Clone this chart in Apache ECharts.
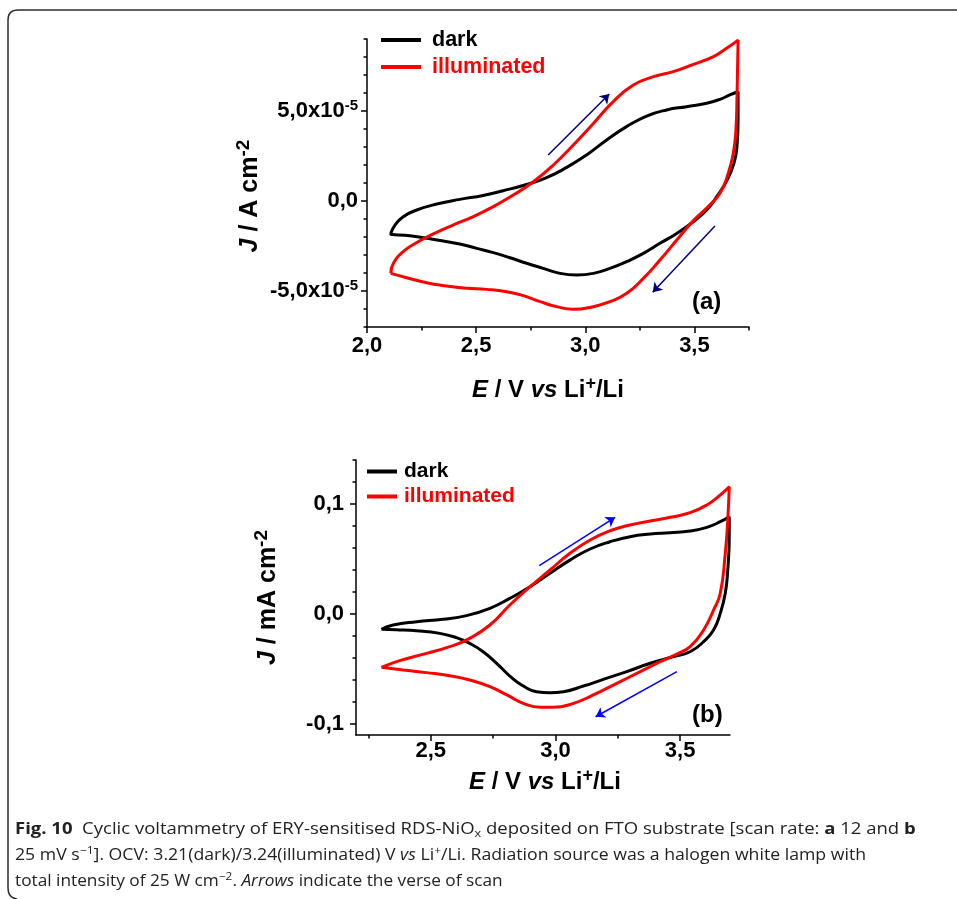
<!DOCTYPE html>
<html><head><meta charset="utf-8">
<script src="https://cdn.jsdelivr.net/npm/echarts@6/dist/echarts.min.js"></script>
<style>html,body{margin:0;padding:0;background:#fff}#c{width:957px;height:899px}</style>
</head><body><div id="c"></div>
<script>
// ---------- DATA ----------
// Panel (a): E / V vs Li+/Li, J in units of 1e-5 A cm^-2 (scan order)
const darkA = [[2.109,-1.79],[2.129,-1.33],[2.166,-0.87],[2.228,-0.50],[2.320,-0.17],[2.425,0.09],[2.532,0.31],[2.624,0.57],[2.731,0.92],[2.823,1.30],[2.915,1.87],[3.006,2.56],[3.098,3.39],[3.189,4.13],[3.281,4.72],[3.373,5.06],[3.464,5.24],[3.556,5.43],[3.617,5.65],[3.662,5.89],[3.700,6.07],
  [3.700,4.50],[3.695,3.02],[3.681,2.09],[3.650,1.17],[3.602,0.24],[3.556,-0.50],[3.495,-1.15],[3.419,-1.80],[3.342,-2.35],[3.266,-2.91],[3.189,-3.37],[3.113,-3.74],[3.037,-4.02],[2.961,-4.11],[2.885,-4.02],[2.807,-3.74],[2.731,-3.46],[2.655,-3.15],[2.579,-2.87],[2.503,-2.63],[2.425,-2.39],[2.349,-2.22],[2.273,-2.07],[2.197,-1.93],[2.109,-1.83],[2.109,-1.79]];
const illumA = [[2.109,-4.02],[2.121,-3.46],[2.166,-2.81],[2.228,-2.31],[2.304,-1.83],[2.396,-1.33],[2.487,-0.87],[2.579,-0.31],[2.670,0.33],[2.762,1.07],[2.854,2.00],[2.945,3.11],[3.037,4.31],[3.128,5.52],[3.220,6.44],[3.312,6.91],[3.403,7.19],[3.495,7.59],[3.587,8.02],[3.647,8.48],[3.700,8.94],
  [3.698,7.65],[3.695,5.80],[3.690,3.94],[3.678,2.65],[3.655,1.54],[3.617,0.43],[3.563,-0.31],[3.495,-1.09],[3.419,-2.17],[3.342,-3.28],[3.266,-4.30],[3.190,-5.13],[3.113,-5.59],[3.037,-5.87],[2.945,-6.02],[2.869,-5.87],[2.793,-5.59],[2.716,-5.26],[2.640,-5.04],[2.548,-4.91],[2.457,-4.85],[2.365,-4.72],[2.273,-4.54],[2.182,-4.26],[2.109,-4.02]];
// Panel (b): J in mA cm^-2
const darkB = [[2.302,-0.0139],[2.349,-0.0100],[2.443,-0.0070],[2.549,-0.0048],[2.643,-0.0015],[2.737,0.0052],[2.817,0.0142],[2.898,0.0248],[2.978,0.0370],[3.058,0.0490],[3.139,0.0591],[3.219,0.0657],[3.299,0.0703],[3.380,0.0727],[3.460,0.0739],[3.540,0.0755],[3.607,0.0788],[3.661,0.0839],[3.697,0.0885],
  [3.697,0.0703],[3.691,0.0400],[3.681,0.0188],[3.661,0.0006],[3.634,-0.0145],[3.594,-0.0252],[3.540,-0.0343],[3.473,-0.0388],[3.380,-0.0448],[3.286,-0.0524],[3.192,-0.0594],[3.112,-0.0655],[3.032,-0.0706],[2.978,-0.0715],[2.924,-0.0706],[2.871,-0.0655],[2.817,-0.0564],[2.764,-0.0448],[2.710,-0.0343],[2.656,-0.0267],[2.603,-0.0215],[2.536,-0.0176],[2.443,-0.0152],[2.362,-0.0143],[2.302,-0.0139]];
const illumB = [[2.302,-0.0485],[2.375,-0.0424],[2.483,-0.0358],[2.576,-0.0297],[2.656,-0.0221],[2.737,-0.0100],[2.817,0.0082],[2.898,0.0248],[2.978,0.0400],[3.058,0.0552],[3.139,0.0673],[3.219,0.0757],[3.299,0.0809],[3.380,0.0845],[3.460,0.0879],[3.540,0.0921],[3.607,0.0991],[3.661,0.1082],[3.697,0.1157],
  [3.691,0.0855],[3.681,0.0552],[3.661,0.0188],[3.634,0.0036],[3.594,-0.0145],[3.540,-0.0297],[3.487,-0.0364],[3.420,-0.0433],[3.340,-0.0524],[3.246,-0.0630],[3.152,-0.0736],[3.072,-0.0812],[2.992,-0.0848],[2.938,-0.0848],[2.871,-0.0812],[2.805,-0.0736],[2.737,-0.0661],[2.656,-0.0600],[2.576,-0.0561],[2.483,-0.0533],[2.389,-0.0509],[2.302,-0.0485]];
// scan-direction arrows [start, tip]
const arrowsA = [[[2.83,2.56],[3.11,5.94]], [[3.594,-1.39],[3.309,-5.07]]];
const arrowsB = [[[2.935,0.0439],[3.239,0.0879]], [[3.487,-0.0524],[3.161,-0.0934]]];
// ticks
const xTicksA = [2.0,2.5,3.0,3.5];
const xMinorA = [2.25,2.75,3.25,3.75];
const yTicksA = [-5,0,5];
const yMinorA = [-7,-6,-4,-3,-2,-1,1,2,3,4,6,7,8,9];
const xTicksB = [2.5,3.0,3.5];
const xMinorB = [2.25,2.75,3.25];
const yTicksB = [-0.1,0,0.1];
const yMinorB = [-0.08,-0.06,-0.04,-0.02,0.02,0.04,0.06,0.08,0.12,0.14];
const seriesNames = ['dark','illuminated'];
const captionLines = [
  '{b|Fig. 10}  Cyclic voltammetry of ERY-sensitised RDS-NiO{sub|x} deposited on FTO substrate [scan rate: {b|a} 12 and {b|b}',
  '25 mV s{sup|\u22121}]. OCV: 3.21(dark)/3.24(illuminated) V {i|vs} Li{sup|+}/Li. Radiation source was a halogen white lamp with',
  'total intensity of 25 W cm{sup|\u22122}. {i|Arrows} indicate the verse of scan'
];

// ---------- STYLE ----------
const FONT = "'Liberation Sans', Arial, sans-serif";
const CFONT = "'Open Sans', 'Noto Sans', sans-serif";
const comma = v => v.toFixed(1).replace('.', ',');
function titleRich(size){
  const ss = Math.round(size*0.75);
  return {
    i:{fontStyle:'italic',fontWeight:'bold',fontSize:size,fontFamily:FONT,lineHeight:size+7,color:'#000'},
    n:{fontWeight:'bold',fontSize:size,fontFamily:FONT,lineHeight:size+7,color:'#000'},
    s:{fontWeight:'bold',fontSize:ss,fontFamily:FONT,verticalAlign:'top',lineHeight:ss,color:'#000'}
  };
}
const labelRich = {
  n:{fontWeight:'bold',fontSize:22,fontFamily:FONT,lineHeight:26,color:'#000'},
  s:{fontWeight:'bold',fontSize:15,fontFamily:FONT,lineHeight:15,verticalAlign:'top',color:'#000'}
};
const lineCol = {color:'#000', width:1.5};
function mainAxis(grid, min, max, ticks, fmt, margin, extra){
  return Object.assign({
    gridIndex:grid, type:'value', min:min, max:max,
    axisLine:{show:true,onZero:false,lineStyle:lineCol},
    axisTick:{show:true,length:6,lineStyle:lineCol,customValues:ticks},
    axisLabel:{customValues:ticks,formatter:fmt,margin:margin,rich:labelRich,
      fontWeight:'bold',fontSize:22,fontFamily:FONT,color:'#000'},
    splitLine:{show:false}
  }, extra);
}
function minorAxis(grid, min, max, ticks, extra){
  return Object.assign({
    gridIndex:grid, type:'value', min:min, max:max,
    axisLine:{show:false,onZero:false},
    axisTick:{show:true,length:3.5,lineStyle:lineCol,customValues:ticks},
    axisLabel:{show:false}, splitLine:{show:false}
  }, extra);
}
function arrowMark(arr, color){
  return {
    silent:true, symbol:['none','arrow'], symbolSize:9, animation:false,
    label:{show:false}, lineStyle:{color:color,width:1.5,type:'solid'},
    emphasis:{disabled:true},
    data: arr.map(a => [{coord:a[0]},{coord:a[1]}])
  };
}
function lineSeries(name, data, color, xi, yi, mark){
  const s = {type:'line', name:name, data:data, xAxisIndex:xi, yAxisIndex:yi,
    showSymbol:false, symbol:'none', smooth:0.5, color:color,
    lineStyle:{color:color,width:3}, itemStyle:{color:color}, animation:false, silent:true};
  if (mark) s.markLine = mark;
  return s;
}

// caption scaling to match original line widths
const captionTargets = [900, 862, 498];
const mctx = document.createElement('canvas').getContext('2d');
function plain(s){ return s.replace(/\{[a-z]+\|([^}]*)\}/g, '$1'); }
const captionRich = {
  b:{fontWeight:'bold',fontSize:16,fontFamily:CFONT,lineHeight:20,fill:'#222'},
  i:{fontStyle:'italic',fontSize:16,fontFamily:CFONT,lineHeight:20,fill:'#222'},
  sup:{fontSize:11,fontFamily:CFONT,verticalAlign:'top',lineHeight:11,fill:'#222'},
  sub:{fontSize:11,fontFamily:CFONT,verticalAlign:'bottom',lineHeight:11,fill:'#222'}
};
const captionY = [829, 855, 881];
const captionGraphics = captionLines.map((t, k) => {
  mctx.font = "16px " + CFONT;
  const w = mctx.measureText(plain(t)).width;
  return {type:'text', x:15, y:captionY[k], scaleX: captionTargets[k]/w, silent:true,
    style:{text:t, rich:captionRich, fontSize:16, fontFamily:CFONT, lineHeight:20, fill:'#222', align:'left', verticalAlign:'middle'}};
});
const borderStyle = {fill:'none', stroke:'#2b2b2b', lineWidth:1.5};

const chart = echarts.init(document.getElementById('c'), null, {renderer:'canvas'});
chart.setOption({
  backgroundColor:'#fff',
  animation:false,
  grid:[
    {left:367, top:39, width:382, height:288},
    {left:356, top:460, width:374, height:275}
  ],
  xAxis:[
    mainAxis(0, 2.0, 3.75, xTicksA, v => comma(v), 8, {position:'bottom',
      name:'{i|E}{n| / V }{i|vs}{n| Li}{s|+}{n|/Li}', nameLocation:'middle', nameGap:48,
      nameTextStyle:{rich:titleRich(24), padding:[0,20,0,0]}}),
    minorAxis(0, 2.0, 3.75, xMinorA, {position:'bottom'}),
    mainAxis(1, 2.2, 3.7, xTicksB, v => comma(v), 5, {position:'bottom',
      name:'{i|E}{n| / V }{i|vs}{n| Li}{s|+}{n|/Li}', nameLocation:'middle', nameGap:32,
      nameTextStyle:{rich:titleRich(24), padding:[0,0,0,4]}}),
    minorAxis(1, 2.2, 3.7, xMinorB, {position:'bottom'})
  ],
  yAxis:[
    mainAxis(0, -7, 9, yTicksA, v => Math.abs(v) < 1e-9 ? '{n|0,0}' : '{n|' + comma(v) + 'x10}{s|-5}', 9, {position:'left',
      name:'{i|J}{n| / A cm}{s|-2}', nameLocation:'middle', nameRotate:90, nameGap:101,
      nameTextStyle:{rich:titleRich(25), padding:[0,26,0,0]}}),
    minorAxis(0, -7, 9, yMinorA, {position:'left'}),
    mainAxis(1, -0.11, 0.14, yTicksB, v => '{n|' + comma(v) + '}', 12, {position:'left',
      name:'{i|J}{n| / mA cm}{s|-2}', nameLocation:'middle', nameRotate:90, nameGap:72,
      nameTextStyle:{rich:titleRich(25)}}),
    minorAxis(1, -0.11, 0.14, yMinorB, {position:'left'})
  ],
  legend:[
    {left:381, top:29, orient:'vertical', padding:0, itemGap:5, itemWidth:40, itemHeight:4, icon:'rect', selectedMode:false,
      data:[{name:seriesNames[0],textStyle:{color:'#000'}},{name:seriesNames[1],textStyle:{color:'#ff0000'}}],
      textStyle:{fontFamily:FONT,fontWeight:'bold',fontSize:21.5,lineHeight:22,padding:[0,0,0,6]}},
    {left:367, top:461, orient:'vertical', padding:0, itemGap:4, itemWidth:30, itemHeight:4, icon:'rect', selectedMode:false,
      data:[{name:seriesNames[0],textStyle:{color:'#000'}},{name:seriesNames[1],textStyle:{color:'#ff0000'}}],
      textStyle:{fontFamily:FONT,fontWeight:'bold',fontSize:21,lineHeight:21,padding:[0,0,0,2]}}
  ],
  series:[
    lineSeries(seriesNames[0], darkA, '#000000', 0, 0, arrowMark(arrowsA, '#00007f')),
    lineSeries(seriesNames[1], illumA, '#ff0000', 0, 0),
    lineSeries(seriesNames[0], darkB, '#000000', 2, 2, arrowMark(arrowsB, '#0000ff')),
    lineSeries(seriesNames[1], illumB, '#ff0000', 2, 2)
  ],
  graphic:[
    {type:'line', silent:true, shape:{x1:18,y1:10,x2:957,y2:10}, style:borderStyle},
    {type:'line', silent:true, shape:{x1:8,y1:20,x2:8,y2:888}, style:borderStyle},
    {type:'bezierCurve', silent:true, shape:{x1:8,y1:20,cpx1:8,cpy1:10,x2:18,y2:10}, style:borderStyle},
    {type:'bezierCurve', silent:true, shape:{x1:8,y1:888,cpx1:8,cpy1:898,x2:17,y2:899}, style:borderStyle},
    {type:'text', x:692, y:302, silent:true, style:{text:'(a)', fontFamily:FONT, fontWeight:'bold', fontSize:24, fill:'#000', align:'left', verticalAlign:'middle'}},
    {type:'text', x:692, y:715, silent:true, style:{text:'(b)', fontFamily:FONT, fontWeight:'bold', fontSize:24, fill:'#000', align:'left', verticalAlign:'middle'}}
  ].concat(captionGraphics)
});
</script></body></html>
